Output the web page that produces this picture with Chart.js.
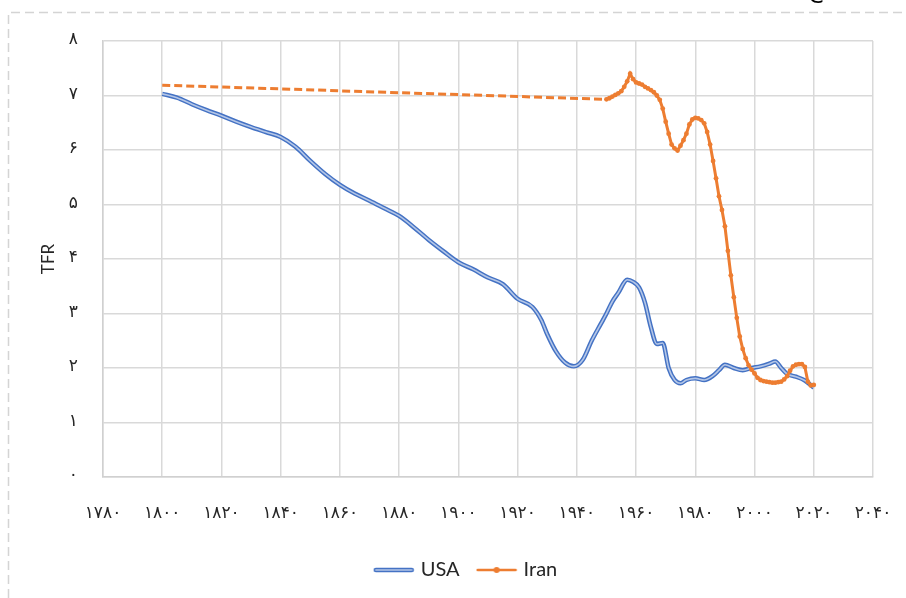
<!DOCTYPE html>
<html><head><meta charset="utf-8">
<script src="https://cdn.jsdelivr.net/npm/chart.js@4.4.0/dist/chart.umd.min.js"></script>
<style>html,body{margin:0;padding:0;background:#fff;}#wrap{width:906px;height:598px;position:relative;}</style>
</head><body><div id="wrap"><canvas id="c"></canvas></div>
<script>
const seriesNames = ['USA', 'Iran'];
const yAxisTitle = 'TFR';
const usaYears = [1800,1805,1810,1815,1820,1825,1830,1835,1840,1845,1850,1855,1860,1865,1870,1875,1880,1885,1890,1895,1900,1905,1910,1915,1920,1925,1928,1930,1933,1936,1939,1942,1945,1948,1950,1952,1954,1957,1959,1961,1963,1965,1967,1969,1971,1973,1975,1977,1980,1983,1986,1988,1990,1993,1996,1999,2002,2005,2007,2009,2011,2014,2017,2020];
const usaTFR = [7.03,6.96,6.84,6.73,6.63,6.52,6.42,6.33,6.24,6.06,5.80,5.56,5.36,5.20,5.07,4.93,4.79,4.58,4.35,4.14,3.94,3.81,3.66,3.54,3.27,3.12,2.88,2.62,2.30,2.10,2.03,2.15,2.50,2.80,3.00,3.22,3.38,3.62,3.58,3.48,3.20,2.75,2.44,2.46,2.00,1.78,1.72,1.78,1.81,1.78,1.86,1.96,2.06,2.00,1.96,2.00,2.03,2.08,2.12,2.00,1.89,1.84,1.77,1.64];
const iranYears = [1800,1950,1951,1952,1953,1954,1955,1956,1957,1958,1959,1960,1961,1962,1963,1964,1965,1966,1967,1968,1969,1970,1971,1972,1973,1974,1975,1976,1977,1978,1979,1980,1981,1982,1983,1984,1985,1986,1987,1988,1989,1990,1991,1992,1993,1994,1995,1996,1997,1998,1999,2000,2001,2002,2003,2004,2005,2006,2007,2008,2009,2010,2011,2012,2013,2014,2015,2016,2017,2018,2019,2020];
const iranTFR = [7.19,6.93,6.95,6.98,7.01,7.04,7.08,7.16,7.26,7.40,7.30,7.24,7.22,7.20,7.16,7.13,7.10,7.06,7.00,6.92,6.76,6.52,6.30,6.10,6.03,5.99,6.08,6.18,6.30,6.47,6.56,6.59,6.58,6.55,6.49,6.33,6.10,5.80,5.48,5.15,4.90,4.60,4.15,3.70,3.30,2.92,2.58,2.35,2.18,2.05,1.97,1.90,1.82,1.78,1.76,1.75,1.74,1.73,1.73,1.74,1.75,1.79,1.85,1.95,2.03,2.06,2.07,2.07,2.02,1.75,1.68,1.69];

const faDigits = '۰۱۲۳۴۵۶۷۸۹';
const toFa = v => String(v).replace(/\d/g, d => faDigits[d]);
const toXY = (xs, ys) => xs.map((x, i) => ({x: x, y: ys[i]}));

const BLUE = '#4472C4', ORANGE = '#ED7D31';

function legendImg(kind) {
  const c = document.createElement('canvas');
  c.width = 42; c.height = 10;
  const g = c.getContext('2d');
  g.lineCap = 'round';
  if (kind === 'usa') {
    g.strokeStyle = BLUE; g.lineWidth = 4.5;
    g.beginPath(); g.moveTo(3, 5); g.lineTo(39, 5); g.stroke();
    g.strokeStyle = 'rgba(255,255,255,0.6)'; g.lineWidth = 1.6;
    g.beginPath(); g.moveTo(3, 5); g.lineTo(39, 5); g.stroke();
  } else {
    g.strokeStyle = ORANGE; g.lineWidth = 2.5;
    g.beginPath(); g.moveTo(2, 5); g.lineTo(40, 5); g.stroke();
    g.fillStyle = ORANGE; g.beginPath(); g.arc(21, 5, 3, 0, Math.PI * 2); g.fill();
  }
  return c;
}
const legendImages = [legendImg('usa'), null, legendImg('iran')];

const framePlugin = {
  id: 'frame',
  afterLayout(chart) {
    const lg = chart.legend;
    if (lg) {
      const shift = 467 - (lg.left + lg.right) / 2;
      lg.left += shift; lg.right += shift;
    }
  },
  beforeDraw(chart) {
    const c = chart.ctx;
    c.save();
    c.fillStyle = '#fff'; c.fillRect(0, 0, chart.width, chart.height);
    c.strokeStyle = '#d4d4d4'; c.lineWidth = 1.5; c.setLineDash([9, 5]);
    c.beginPath(); c.moveTo(8.5, chart.height); c.lineTo(8.5, 12.5); c.lineTo(chart.width, 12.5); c.stroke();
    c.setLineDash([]);
    c.fillStyle = '#000'; c.font = '22px "DejaVu Sans"'; c.textAlign = 'center'; c.textBaseline = 'alphabetic';
    c.fillText('ع', 816, -2);
    c.restore();
  }
};

new Chart(document.getElementById('c'), {
  type: 'line',
  data: {
    datasets: [
      { label: seriesNames[0], data: toXY(usaYears, usaTFR), borderColor: BLUE, borderWidth: 4.5,
        pointRadius: 0, cubicInterpolationMode: 'monotone', order: 2 },
      { label: '_inner', data: toXY(usaYears, usaTFR), borderColor: 'rgba(255,255,255,0.6)', borderWidth: 1.6,
        pointRadius: 0, cubicInterpolationMode: 'monotone', order: 1 },
      { label: seriesNames[1], data: toXY(iranYears, iranTFR), borderColor: ORANGE, backgroundColor: ORANGE,
        borderWidth: 3, pointRadius: ctx => ctx.dataIndex === 0 ? 0 : 2.4, pointBorderWidth: 0,
        pointBackgroundColor: ORANGE, order: 0,
        segment: { borderDash: ctx => ctx.p0DataIndex === 0 ? [8, 4] : undefined } }
    ]
  },
  options: {
    responsive: true, maintainAspectRatio: false, animation: false,
    layout: { padding: { left: 0, top: 41, right: 33, bottom: 8 } },
    plugins: {
      tooltip: { enabled: false },
      legend: {
        position: 'bottom',
        labels: {
          usePointStyle: true, pointStyleWidth: 34, padding: 20,
          color: '#262626', font: { family: 'Lato, "DejaVu Sans"', size: 20 },
          filter: item => item.text !== '_inner',
          sort: (a, b) => a.datasetIndex - b.datasetIndex,
          generateLabels: chart => {
            const items = Chart.defaults.plugins.legend.labels.generateLabels(chart);
            items.forEach(it => { it.pointStyle = legendImages[it.datasetIndex]; });
            return items;
          }
        }
      }
    },
    scales: {
      x: {
        type: 'linear', min: 1780, max: 2040,
        afterFit: s => { s.height = 63; s.paddingLeft = 0; s.paddingRight = 0; },
        grid: { color: '#d9d9d9', lineWidth: 1.5, drawTicks: false },
        border: { color: '#d0d0d0', width: 1.5 },
        ticks: { stepSize: 20, padding: 26, maxRotation: 0, autoSkip: false, color: '#262626',
                 font: { family: '"DejaVu Sans"', size: 17 }, callback: v => toFa(v) }
      },
      y: {
        min: 0, max: 8,
        afterFit: s => { s.width = 103; },
        grid: { color: '#d9d9d9', lineWidth: 1.5, drawTicks: false },
        border: { color: '#d0d0d0', width: 1.5 },
        title: { display: true, text: yAxisTitle, color: '#262626', padding: { top: 38, bottom: 0 },
                 font: { family: 'Lato, "DejaVu Sans"', size: 17 } },
        ticks: { stepSize: 1, padding: 25, labelOffset: -1, color: '#262626',
                 font: { family: '"DejaVu Sans"', size: 17 }, callback: v => toFa(v) }
      }
    }
  },
  plugins: [framePlugin]
});
</script></body></html>
